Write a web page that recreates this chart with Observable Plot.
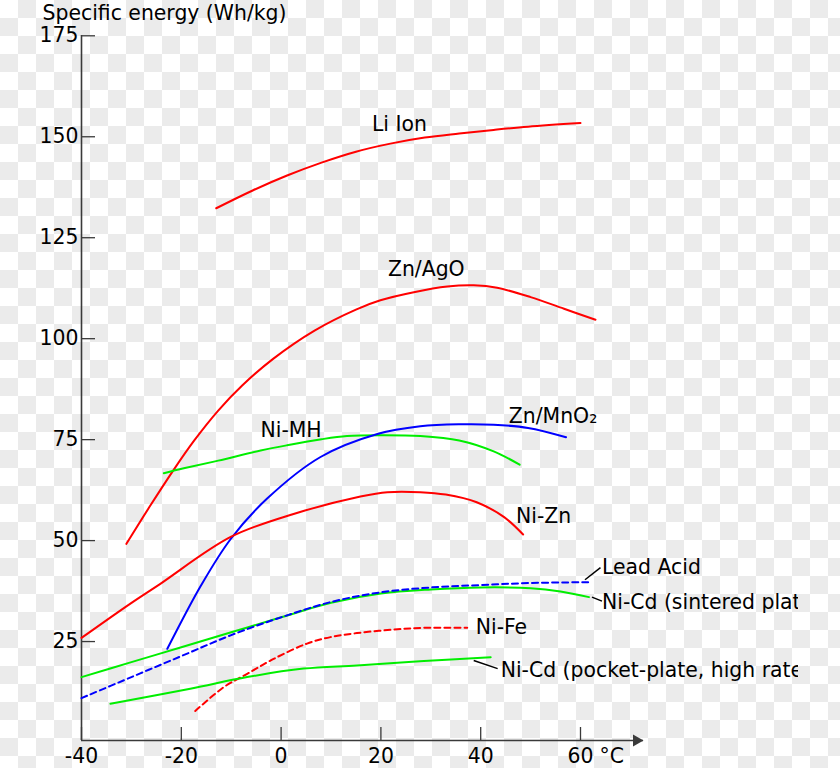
<!DOCTYPE html>
<html>
<head>
<meta charset="utf-8">
<script src="https://cdn.jsdelivr.net/npm/d3@7"></script>
<script src="https://cdn.jsdelivr.net/npm/@observablehq/plot@0.6"></script>
<style>
  html, body { margin: 0; padding: 0; }
  body {
    width: 840px; height: 768px; overflow: hidden;
    background: repeating-conic-gradient(#ebebeb 0 25%, #ffffff 0 50%) 0 0 / 36px 36px;
  }
</style>
</head>
<body>
<div id="chart"></div>
<script>
// ---- data ----
const xTicks = [-40, -20, 0, 20, 40, 60];
const xTickLabels = ["-40", "-20", "0", "20", "40", "60"];
const xUnit = "°C";
const yTicks = [25, 50, 75, 100, 125, 150, 175];
const yTitle = "Specific energy (Wh/kg)";

const liIonX = [-13.0, -5.7, 1.2, 8.1, 15.0, 21.9, 28.8, 35.7, 42.6, 49.5, 60.0];
const liIonY = [132.3, 136.7, 140.4, 143.6, 146.3, 148.3, 149.8, 150.8, 151.7, 152.5, 153.4];

const znAgOX = [-31.0, -26.4, -21.6, -17.4, -12.6, -7.8, -1.6, 6.7, 15.0, 19.9, 26.6, 33.3, 38.6, 43.3, 50.0, 56.7, 63.0];
const znAgOY = [49.2, 58.3, 67.4, 74.8, 82.2, 88.4, 95.0, 102.0, 107.2, 109.5, 111.5, 112.9, 113.2, 112.6, 110.3, 107.4, 104.7];

const niMHX = [-23.5, -19.5, -12.6, -4.1, 1.2, 8.1, 13.2, 20.0, 27.9, 35.7, 42.6, 47.8];
const niMHY = [66.7, 67.9, 69.8, 72.3, 73.6, 75.1, 75.9, 76.1, 75.9, 74.8, 72.1, 68.8];

const znMnO2X = [-22.8, -16.0, -10.1, -2.8, 7.9, 19.3, 27.9, 35.7, 42.6, 49.5, 57.1];
const znMnO2Y = [23.2, 39.0, 50.4, 60.4, 70.7, 76.4, 78.3, 78.8, 78.7, 77.9, 75.6];

const niZnX = [-40.0, -30.2, -24.2, -10.1, 2.5, 15.9, 21.3, 27.9, 33.0, 39.2, 44.7, 48.5];
const niZnY = [25.9, 34.4, 39.3, 50.9, 56.6, 60.9, 62.0, 62.0, 61.4, 59.5, 55.8, 51.5];

const leadAcidX = [-40, -30, -20, -10, 0, 10, 20, 30, 40, 50, 61.9];
const leadAcidY = [11.0, 16.2, 21.4, 26.6, 31.0, 34.8, 37.2, 38.4, 39.0, 39.5, 39.7];

const niCdSinteredX = [-40, -30, -20, -10, 0, 10, 20, 30, 40, 50, 56, 61.7];
const niCdSinteredY = [16.2, 19.9, 23.6, 27.3, 31.0, 34.6, 36.9, 37.9, 38.4, 38.2, 37.4, 36.0];

const niFeX = [-17.2, -11.5, -6.8, -1.5, 5.2, 9.9, 15.2, 21.9, 28.6, 37.3];
const niFeY = [7.8, 13.7, 17.0, 20.7, 24.5, 26.1, 27.1, 27.9, 28.4, 28.4];

const niCdPocketX = [-34.2, -18.2, -6.8, 4.5, 15.2, 28.6, 42.0];
const niCdPocketY = [9.6, 13.3, 16.2, 18.3, 19.1, 20.2, 21.1];

// labels: [text, x, y]
const centerLabels = [
  ["Li Ion", 23.7, 153.0],
  ["Zn/AgO", 29.1, 117.1],
  ["Ni-MH", 2.0, 77.3],
  ["Zn/MnO\u2082", 54.5, 80.7],
  ["Ni-Zn", 52.6, 56.0]
];
const startLabels = [
  ["Lead Acid", 64.3, 43.4],
  ["Ni-Cd (sintered plate)", 64.3, 34.8],
  ["Ni-Fe", 39.0, 28.4],
  ["Ni-Cd (pocket-plate, high rate)", 44.0, 17.9]
];
// leader lines: [x1, y1, x2, y2]
const leaders = [
  [60.9, 40.3, 64.0, 43.3],
  [62.3, 36.0, 64.3, 35.0],
  [38.6, 20.3, 43.4, 18.3]
];

// ---- styling ----
const RED = "#ff0000", GREEN = "#00ee00", BLUE = "#0000ff";
const axisColor = "#3a3a3a";
const series = [
  {x: liIonX, y: liIonY, color: RED, dash: null},
  {x: znAgOX, y: znAgOY, color: RED, dash: null},
  {x: niMHX, y: niMHY, color: GREEN, dash: null},
  {x: znMnO2X, y: znMnO2Y, color: BLUE, dash: null},
  {x: niZnX, y: niZnY, color: RED, dash: null},
  {x: niCdSinteredX, y: niCdSinteredY, color: GREEN, dash: null},
  {x: leadAcidX, y: leadAcidY, color: BLUE, dash: "6,4"},
  {x: niFeX, y: niFeY, color: RED, dash: "6,4"},
  {x: niCdPocketX, y: niCdPocketY, color: GREEN, dash: null}
];
const lineMarks = series.map(s => Plot.line(
  s.x.map((x, i) => ({x, y: s.y[i]})),
  {x: "x", y: "y", stroke: s.color, strokeWidth: 2, strokeDasharray: s.dash, curve: "catmull-rom"}
));

const yMin = 0.5;
const chart = Plot.plot({
  width: 798,
  height: 768,
  marginLeft: 81,
  marginRight: 155,
  marginTop: 35,
  marginBottom: 28,
  x: {domain: [-40, 60], range: [81, 580]},
  y: {domain: [yMin, 175], range: [740, 35.3]},
  style: {background: "transparent", overflow: "hidden", fontFamily: "'DejaVu Sans', sans-serif", fontSize: "20.4px", color: "black"},
  marks: [
    // axis lines
    Plot.ruleX([xTicks[0]], {stroke: axisColor, strokeWidth: 1.6}),
    Plot.ruleY([yMin], {stroke: axisColor, strokeWidth: 1.6}),
    Plot.dot([0], {x: null, y: null, frameAnchor: "bottom-right", symbol: "triangle", rotate: 90, r: 4.5, dx: -7, fill: axisColor, stroke: "none"}),
    // ticks
    Plot.axisY(yTicks, {tickSize: 14, dx: 14, fill: "none", stroke: axisColor, strokeWidth: 1.3}),
    Plot.axisX(xTicks, {anchor: "bottom", tickSize: 13, dy: -13, fill: "none", stroke: axisColor, strokeWidth: 1.3}),
    // tick labels
    Plot.axisY(yTicks, {tickSize: 0, tickPadding: 3, stroke: "none", fill: "black", label: null, tickFormat: d => String(d)}),
    Plot.axisX(xTicks, {anchor: "bottom", tickSize: 0, tickPadding: 8, stroke: "none", fill: "black", label: null, tickFormat: d => xTickLabels[xTicks.indexOf(d)]}),
    Plot.text([xUnit], {x: () => xTicks[xTicks.length - 1], y: () => yMin, dx: 19, dy: 8, textAnchor: "start", lineAnchor: "top", fill: "black"}),
    Plot.text([yTitle], {frameAnchor: "top-left", dx: -39, dy: -30, textAnchor: "start", lineAnchor: "top", fill: "black"}),
    // data lines
    ...lineMarks,
    // leaders and labels
    Plot.link(leaders, {x1: d => d[0], y1: d => d[1], x2: d => d[2], y2: d => d[3], stroke: "black", strokeWidth: 1.5}),
    Plot.text(centerLabels, {x: d => d[1], y: d => d[2], text: d => d[0], textAnchor: "middle", fill: "black"}),
    Plot.text(startLabels, {x: d => d[1], y: d => d[2], text: d => d[0], textAnchor: "start", fill: "black"})
  ]
});
document.getElementById("chart").appendChild(chart);
</script>
</body>
</html>
